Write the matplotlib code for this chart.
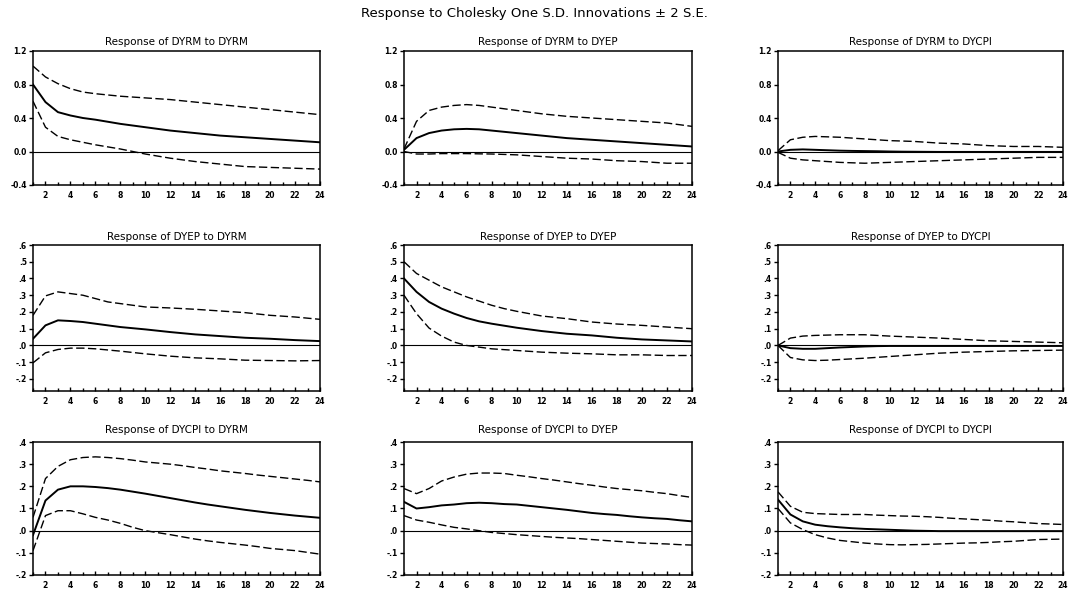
import matplotlib
matplotlib.use("Agg")
import matplotlib.pyplot as plt

periods = list(range(1, 25))

# DYRM responses
rm_rm = [0.80, 0.59, 0.47, 0.43, 0.40, 0.38, 0.355, 0.33, 0.31, 0.29, 0.27, 0.25,
         0.235, 0.22, 0.205, 0.19, 0.18, 0.17, 0.16, 0.15, 0.14, 0.13, 0.12, 0.11]
rm_rm_hi = [1.02, 0.89, 0.81, 0.75, 0.71, 0.69, 0.675, 0.66, 0.65, 0.64, 0.63, 0.62,
            0.605, 0.59, 0.575, 0.56, 0.545, 0.53, 0.515, 0.50, 0.485, 0.47, 0.455, 0.44]
rm_rm_lo = [0.60, 0.29, 0.18, 0.14, 0.11, 0.08, 0.055, 0.03, 0.0, -0.03, -0.055, -0.08,
            -0.10, -0.12, -0.135, -0.15, -0.165, -0.18, -0.185, -0.19, -0.195, -0.20, -0.205, -0.21]

rm_ep = [0.02, 0.16, 0.22, 0.25, 0.265, 0.27, 0.265, 0.25, 0.235, 0.22, 0.205, 0.19,
         0.175, 0.16, 0.15, 0.14, 0.13, 0.12, 0.11, 0.10, 0.09, 0.08, 0.07, 0.06]
rm_ep_hi = [0.03, 0.36, 0.49, 0.53, 0.55, 0.56, 0.55, 0.53, 0.51, 0.49, 0.47, 0.45,
            0.435, 0.42, 0.41, 0.40, 0.39, 0.38, 0.37, 0.36, 0.35, 0.34, 0.32, 0.30]
rm_ep_lo = [0.0, -0.03, -0.03, -0.025, -0.025, -0.025, -0.028, -0.03, -0.035, -0.04, -0.05, -0.06,
            -0.07, -0.08, -0.085, -0.09, -0.10, -0.11, -0.115, -0.12, -0.13, -0.14, -0.14, -0.14]

rm_cpi = [0.0, 0.02, 0.025, 0.02, 0.015, 0.01, 0.007, 0.005, 0.003, 0.0, -0.002, -0.003,
          -0.004, -0.005, -0.005, -0.005, -0.005, -0.005, -0.005, -0.005, -0.005, -0.005, -0.005, -0.005]
rm_cpi_hi = [0.01, 0.14, 0.17, 0.18, 0.175, 0.17, 0.16, 0.15, 0.14, 0.13, 0.125, 0.12,
             0.11, 0.10, 0.095, 0.09, 0.08, 0.07, 0.065, 0.06, 0.06, 0.06, 0.055, 0.05]
rm_cpi_lo = [-0.01, -0.08, -0.10, -0.11, -0.12, -0.13, -0.135, -0.14, -0.135, -0.13, -0.125, -0.12,
             -0.115, -0.11, -0.105, -0.10, -0.095, -0.09, -0.085, -0.08, -0.075, -0.07, -0.07, -0.07]

# DYEP responses
ep_rm = [0.04, 0.12, 0.15, 0.146, 0.14, 0.13, 0.12, 0.11, 0.103, 0.096, 0.088, 0.08,
         0.073, 0.066, 0.061, 0.056, 0.051, 0.046, 0.043, 0.04, 0.036, 0.032, 0.029, 0.026]
ep_rm_hi = [0.18, 0.296, 0.32, 0.31, 0.30, 0.28, 0.26, 0.25, 0.24, 0.23, 0.227, 0.224,
            0.22, 0.216, 0.211, 0.206, 0.201, 0.196, 0.188, 0.18, 0.175, 0.17, 0.163, 0.156]
ep_rm_lo = [-0.104, -0.044, -0.024, -0.016, -0.016, -0.02, -0.027, -0.034, -0.042, -0.05, -0.057, -0.064,
            -0.069, -0.074, -0.077, -0.08, -0.084, -0.088, -0.089, -0.09, -0.091, -0.092, -0.091, -0.09]

ep_ep = [0.40, 0.32, 0.26, 0.22, 0.19, 0.164, 0.144, 0.13, 0.118, 0.106, 0.096, 0.086,
         0.078, 0.07, 0.065, 0.06, 0.053, 0.046, 0.041, 0.036, 0.033, 0.03, 0.027, 0.024]
ep_ep_hi = [0.50, 0.43, 0.39, 0.35, 0.32, 0.29, 0.265, 0.24, 0.22, 0.204, 0.19, 0.176,
            0.168, 0.16, 0.15, 0.14, 0.134, 0.128, 0.124, 0.12, 0.115, 0.11, 0.105, 0.10]
ep_ep_lo = [0.30, 0.19, 0.104, 0.056, 0.02, 0.0, -0.01, -0.02, -0.025, -0.03, -0.035, -0.04,
            -0.043, -0.046, -0.048, -0.05, -0.053, -0.056, -0.056, -0.056, -0.058, -0.06, -0.06, -0.06]

ep_cpi = [0.0, -0.016, -0.02, -0.02, -0.016, -0.012, -0.009, -0.006, -0.004, -0.003, -0.003, -0.003,
          -0.003, -0.003, -0.003, -0.003, -0.003, -0.003, -0.003, -0.003, -0.003, -0.003, -0.003, -0.003]
ep_cpi_hi = [0.0, 0.044, 0.056, 0.06, 0.062, 0.064, 0.064, 0.064, 0.06, 0.056, 0.053, 0.05,
             0.047, 0.044, 0.04, 0.036, 0.032, 0.028, 0.026, 0.024, 0.022, 0.02, 0.018, 0.016]
ep_cpi_lo = [0.0, -0.072, -0.086, -0.09, -0.088, -0.084, -0.08, -0.076, -0.071, -0.066, -0.061, -0.056,
             -0.051, -0.046, -0.043, -0.04, -0.038, -0.036, -0.034, -0.032, -0.031, -0.03, -0.029, -0.028]

# DYCPI responses
cpi_rm = [-0.02, 0.136, 0.185, 0.2, 0.2, 0.197, 0.192, 0.185, 0.176, 0.167, 0.157, 0.147,
          0.137, 0.127, 0.118, 0.11, 0.102, 0.094, 0.087, 0.08, 0.074, 0.068, 0.063, 0.058]
cpi_rm_hi = [0.06, 0.235, 0.29, 0.32, 0.33, 0.333, 0.33, 0.325, 0.318, 0.31, 0.305, 0.30,
             0.293, 0.285, 0.278, 0.27, 0.264, 0.258, 0.251, 0.245, 0.239, 0.233, 0.227, 0.22]
cpi_rm_lo = [-0.09, 0.068, 0.09, 0.09, 0.076, 0.06, 0.048, 0.033, 0.015, 0.0, -0.009, -0.018,
             -0.028, -0.038, -0.046, -0.053, -0.059, -0.065, -0.072, -0.08, -0.085, -0.09, -0.098, -0.106]

cpi_ep = [0.13, 0.10, 0.106, 0.114, 0.118, 0.124, 0.126, 0.124, 0.12, 0.118, 0.112, 0.106,
          0.1, 0.094, 0.087, 0.08, 0.075, 0.071, 0.065, 0.06, 0.056, 0.053, 0.047, 0.042]
cpi_ep_hi = [0.19, 0.167, 0.19, 0.224, 0.242, 0.255, 0.26, 0.26, 0.258, 0.25, 0.243, 0.235,
             0.228, 0.22, 0.212, 0.205, 0.197, 0.19, 0.185, 0.18, 0.173, 0.167, 0.158, 0.15]
cpi_ep_lo = [0.068, 0.048, 0.038, 0.026, 0.015, 0.008, 0.0, -0.008, -0.013, -0.018, -0.022, -0.026,
             -0.03, -0.033, -0.036, -0.04, -0.044, -0.048, -0.052, -0.056, -0.058, -0.06, -0.063, -0.065]

cpi_cpi = [0.14, 0.073, 0.042, 0.027, 0.02, 0.015, 0.011, 0.008, 0.006, 0.004, 0.002, 0.0,
           -0.001, -0.002, -0.002, -0.002, -0.002, -0.002, -0.002, -0.002, -0.002, -0.002, -0.002, -0.002]
cpi_cpi_hi = [0.175, 0.11, 0.083, 0.077, 0.075, 0.073, 0.073, 0.073, 0.07, 0.068, 0.066, 0.065,
              0.063, 0.06, 0.056, 0.053, 0.05, 0.047, 0.043, 0.04, 0.036, 0.032, 0.03, 0.028]
cpi_cpi_lo = [0.10, 0.035, 0.005, -0.018, -0.033, -0.044, -0.05, -0.056, -0.06, -0.063, -0.064, -0.063,
              -0.062, -0.06, -0.058, -0.056, -0.055, -0.053, -0.05, -0.048, -0.044, -0.04, -0.039, -0.038]

variables = ["DYRM", "DYEP", "DYCPI"]

row_ticks = [
    [1.2, 0.8, 0.4, 0.0, -0.4],
    [0.6, 0.5, 0.4, 0.3, 0.2, 0.1, 0.0, -0.1, -0.2],
    [0.4, 0.3, 0.2, 0.1, 0.0, -0.1, -0.2],
]
row_tick_labels = [
    ["1.2", "0.8", "0.4", "0.0", "-0.4"],
    [".6", ".5", ".4", ".3", ".2", ".1", ".0", "-.1", "-.2"],
    [".4", ".3", ".2", ".1", ".0", "-.1", "-.2"],
]
x_ticks = [2, 4, 6, 8, 10, 12, 14, 16, 18, 20, 22, 24]

series = [
    [(rm_rm, rm_rm_hi, rm_rm_lo), (rm_ep, rm_ep_hi, rm_ep_lo), (rm_cpi, rm_cpi_hi, rm_cpi_lo)],
    [(ep_rm, ep_rm_hi, ep_rm_lo), (ep_ep, ep_ep_hi, ep_ep_lo), (ep_cpi, ep_cpi_hi, ep_cpi_lo)],
    [(cpi_rm, cpi_rm_hi, cpi_rm_lo), (cpi_ep, cpi_ep_hi, cpi_ep_lo), (cpi_cpi, cpi_cpi_hi, cpi_cpi_lo)],
]

W, H = 1069, 592
col_px = [(33, 320), (404, 692), (778, 1063)]
row_px = [(51, 185), (245, 391), (442, 575)]
row_ylim = [(-0.4, 1.2), (-0.272, 0.6), (-0.2, 0.4)]
title_pad = [4.5, 3.5, 6.5]


def draw_panel(ax, resp, hi, lo, r):
    ax.axhline(0, color="black", lw=0.8)
    ax.plot(periods, resp, color="black", lw=1.4)
    ax.plot(periods, hi, color="black", lw=1.0, dashes=(6, 2.5))
    ax.plot(periods, lo, color="black", lw=1.0, dashes=(6, 2.5))
    ax.set_xlim(1, 24)
    ax.set_ylim(*row_ylim[r])
    ax.set_yticks(row_ticks[r])
    ax.set_yticklabels(row_tick_labels[r])
    ax.set_xticks(x_ticks)
    ax.set_xticks(periods, minor=True)
    ax.tick_params(axis="x", which="both", direction="in", top=False, length=3, width=1, labelsize=5.5, pad=4)
    ax.tick_params(axis="x", which="minor", length=2)
    ax.tick_params(axis="y", direction="out", length=3, width=1, labelsize=5.5, pad=1.5)
    for lab in ax.get_xticklabels() + ax.get_yticklabels():
        lab.set_fontweight("bold")
    for sp in ax.spines.values():
        sp.set_linewidth(1.1)


fig = plt.figure(figsize=(W / 100, H / 100), dpi=100)
fig.text(0.5, 1 - 13 / H, "Response to Cholesky One S.D. Innovations \u00b1 2 S.E.",
         ha="center", va="center", fontsize=9.5)

for r in range(3):
    for c in range(3):
        x0, x1 = col_px[c]
        top, bottom = row_px[r]
        ax = fig.add_axes([x0 / W, 1 - bottom / H, (x1 - x0) / W, (bottom - top) / H])
        resp, hi, lo = series[r][c]
        draw_panel(ax, resp, hi, lo, r)
        ax.set_title("Response of %s to %s" % (variables[r], variables[c]),
                     fontsize=7.5, pad=title_pad[r])

fig.savefig("out.png", dpi=100)
